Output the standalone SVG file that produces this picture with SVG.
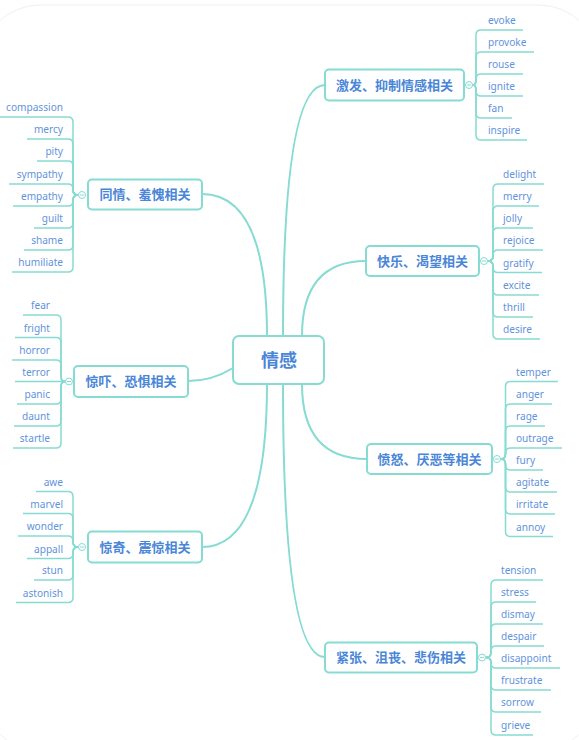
<svg xmlns="http://www.w3.org/2000/svg" width="579" height="740" viewBox="0 0 579 740">
<style>
.bg{fill:#ffffff}
.frame{fill:none;stroke:#f0f0f0;stroke-width:1}
.box{fill:#ffffff;stroke:#86dbd2;stroke-width:2}
.main{fill:none;stroke:#86dbd2;stroke-width:2}
.leafline{fill:none;stroke:#86dbd2;stroke-width:1.5}
.dot{fill:#ffffff;stroke:#86dbd2;stroke-width:1}
.minus{stroke:#86dbd2;stroke-width:1}
.center{font-family:"Noto Sans CJK SC","Noto Sans",sans-serif;font-size:18px;font-weight:bold;fill:#4a86d8;text-anchor:middle}
.topic{font-family:"Noto Sans CJK SC","Noto Sans",sans-serif;font-size:13px;font-weight:bold;fill:#4a86d8;text-anchor:middle}
.leaf{font-family:"Noto Sans","Open Sans",sans-serif;font-size:10.1px;fill:#5f93dc}
.r{text-anchor:end}
</style>
<rect class="bg" x="0" y="0" width="579" height="740"/>
<rect class="frame" x="-20" y="5" width="619" height="745" rx="60"/>

<g id="connectors">
<path class="main" d="M283,336 Q283,85 325,85"/>
<path class="main" d="M302,336 Q302,261 366,261"/>
<path class="main" d="M267,336 Q267,194 202,194"/>
<path class="main" d="M233,368 Q212,381 188,381"/>
<path class="main" d="M267,384 Q267,547 202,547"/>
<path class="main" d="M283,384 Q283,657 325,657"/>
<path class="main" d="M302,384 Q302,459 367,459"/>

<path class="leafline" d="M472.5,85 Q476,85 476,80 L476,35 Q476,30 481,30 L523,30"/>
<path class="leafline" d="M472.5,85 Q476,85 476,80 L476,57 Q476,52 481,52 L534,52"/>
<path class="leafline" d="M472.5,85 Q476,85 476,80 L476,79 Q476,74 481,74 L523,74"/>
<path class="leafline" d="M472.5,85 Q476,85 476,90 L476,91 Q476,96 481,96 L523,96"/>
<path class="leafline" d="M472.5,85 Q476,85 476,90 L476,113 Q476,118 481,118 L512,118"/>
<path class="leafline" d="M472.5,85 Q476,85 476,90 L476,135 Q476,140 481,140 L527,140"/>

<path class="leafline" d="M78.5,195 Q73,195 73,190 L73,122 Q73,117 68,117 L0,117"/>
<path class="leafline" d="M78.5,195 Q73,195 73,190 L73,144 Q73,139 68,139 L27,139"/>
<path class="leafline" d="M78.5,195 Q73,195 73,190 L73,166 Q73,161 68,161 L37,161"/>
<path class="leafline" d="M78.5,195 Q73,195 73,190 L73,189 Q73,184 68,184 L9,184"/>
<path class="leafline" d="M78.5,195 Q73,195 73,200 L73,201 Q73,206 68,206 L13,206"/>
<path class="leafline" d="M78.5,195 Q73,195 73,200 L73,223 Q73,228 68,228 L34,228"/>
<path class="leafline" d="M78.5,195 Q73,195 73,200 L73,245 Q73,250 68,250 L24,250"/>
<path class="leafline" d="M78.5,195 Q73,195 73,200 L73,267 Q73,272 68,272 L12,272"/>

<path class="leafline" d="M487.5,261 Q493,261 493,256 L493,189 Q493,184 498,184 L544,184"/>
<path class="leafline" d="M487.5,261 Q493,261 493,256 L493,211 Q493,206 498,206 L539,206"/>
<path class="leafline" d="M487.5,261 Q493,261 493,256 L493,233 Q493,228 498,228 L533,228"/>
<path class="leafline" d="M487.5,261 Q493,261 493,256 L493,255 Q493,250 498,250 L543,250"/>
<path class="leafline" d="M487.5,261 Q493,261 493,266 L493,267.5 Q493,272.5 498,272.5 L542,272.5"/>
<path class="leafline" d="M487.5,261 Q493,261 493,266 L493,290 Q493,295 498,295 L539,295"/>
<path class="leafline" d="M487.5,261 Q493,261 493,266 L493,312 Q493,317 498,317 L533,317"/>
<path class="leafline" d="M487.5,261 Q493,261 493,266 L493,334 Q493,339 498,339 L540,339"/>

<path class="leafline" d="M65.5,381.5 Q61,381.5 61,376.5 L61,320 Q61,315 56,315 L23,315"/>
<path class="leafline" d="M65.5,381.5 Q61,381.5 61,376.5 L61,342.5 Q61,337.5 56,337.5 L15,337.5"/>
<path class="leafline" d="M65.5,381.5 Q61,381.5 61,376.5 L61,365 Q61,360 56,360 L12,360"/>
<path class="leafline" d="M65.5,381.5 L15,381.5"/>
<path class="leafline" d="M65.5,381.5 Q61,381.5 61,386.5 L61,399 Q61,404 56,404 L17,404"/>
<path class="leafline" d="M65.5,381.5 Q61,381.5 61,386.5 L61,421 Q61,426 56,426 L14,426"/>
<path class="leafline" d="M65.5,381.5 Q61,381.5 61,386.5 L61,443 Q61,448 56,448 L13,448"/>

<path class="leafline" d="M78.5,547 Q73,547 73,542 L73,496.5 Q73,491.5 68,491.5 L36,491.5"/>
<path class="leafline" d="M78.5,547 Q73,547 73,542 L73,518.5 Q73,513.5 68,513.5 L23,513.5"/>
<path class="leafline" d="M78.5,547 Q73,547 73,542 L73,541 Q73,536 68,536 L18,536"/>
<path class="leafline" d="M78.5,547 Q73,547 73,552 L73,553.5 Q73,558.5 68,558.5 L27,558.5"/>
<path class="leafline" d="M78.5,547 Q73,547 73,552 L73,575 Q73,580 68,580 L34,580"/>
<path class="leafline" d="M78.5,547 Q73,547 73,552 L73,597.5 Q73,602.5 68,602.5 L16,602.5"/>

<path class="leafline" d="M500.5,459 Q505.5,459 505.5,454 L505.5,386.5 Q505.5,381.5 510.5,381.5 L558,381.5"/>
<path class="leafline" d="M500.5,459 Q505.5,459 505.5,454 L505.5,409 Q505.5,404 510.5,404 L552,404"/>
<path class="leafline" d="M500.5,459 Q505.5,459 505.5,454 L505.5,431 Q505.5,426 510.5,426 L545,426"/>
<path class="leafline" d="M500.5,459 Q505.5,459 505.5,454 L505.5,453 Q505.5,448 510.5,448 L562,448"/>
<path class="leafline" d="M500.5,459 Q505.5,459 505.5,464 L505.5,465 Q505.5,470 510.5,470 L543,470"/>
<path class="leafline" d="M500.5,459 Q505.5,459 505.5,464 L505.5,487 Q505.5,492 510.5,492 L557,492"/>
<path class="leafline" d="M500.5,459 Q505.5,459 505.5,464 L505.5,509 Q505.5,514 510.5,514 L555,514"/>
<path class="leafline" d="M500.5,459 Q505.5,459 505.5,464 L505.5,531.5 Q505.5,536.5 510.5,536.5 L553,536.5"/>

<path class="leafline" d="M485.5,657.5 Q491,657.5 491,652.5 L491,585 Q491,580 496,580 L543,580"/>
<path class="leafline" d="M485.5,657.5 Q491,657.5 491,652.5 L491,607 Q491,602 496,602 L536,602"/>
<path class="leafline" d="M485.5,657.5 Q491,657.5 491,652.5 L491,629 Q491,624 496,624 L543,624"/>
<path class="leafline" d="M485.5,657.5 Q491,657.5 491,652.5 L491,651 Q491,646 496,646 L544,646"/>
<path class="leafline" d="M485.5,657.5 Q491,657.5 491,662.5 L491,663 Q491,668 496,668 L560,668"/>
<path class="leafline" d="M485.5,657.5 Q491,657.5 491,662.5 L491,685 Q491,690 496,690 L551,690"/>
<path class="leafline" d="M485.5,657.5 Q491,657.5 491,662.5 L491,707 Q491,712 496,712 L541,712"/>
<path class="leafline" d="M485.5,657.5 Q491,657.5 491,662.5 L491,730 Q491,735 496,735 L533,735"/>
</g>

<g id="node-center">
<rect class="box" x="233" y="336" width="91" height="48" rx="6"/>
<text class="center" x="279" y="367">情感</text>
</g>

<g id="node-jifa">
<rect class="box" x="325" y="69.5" width="139" height="31" rx="4"/>
<text class="topic" x="394.5" y="89.5">激发、抑制情感相关</text>
<circle class="dot" cx="469" cy="85" r="3.5"/><line class="minus" x1="467" y1="85" x2="471" y2="85"/>
<text class="leaf" x="488" y="24">evoke</text>
<text class="leaf" x="488" y="46">provoke</text>
<text class="leaf" x="488" y="68">rouse</text>
<text class="leaf" x="488" y="90">ignite</text>
<text class="leaf" x="488" y="112">fan</text>
<text class="leaf" x="488" y="134">inspire</text>
</g>

<g id="node-tongqing">
<rect class="box" x="88" y="179.5" width="114" height="30" rx="4"/>
<text class="topic" x="145" y="199">同情、羞愧相关</text>
<circle class="dot" cx="82" cy="195" r="3.5"/><line class="minus" x1="80" y1="195" x2="84" y2="195"/>
<text class="leaf r" x="63" y="111">compassion</text>
<text class="leaf r" x="63" y="133">mercy</text>
<text class="leaf r" x="63" y="155">pity</text>
<text class="leaf r" x="63" y="178">sympathy</text>
<text class="leaf r" x="63" y="200">empathy</text>
<text class="leaf r" x="63" y="222">guilt</text>
<text class="leaf r" x="63" y="244">shame</text>
<text class="leaf r" x="63" y="266">humiliate</text>
</g>

<g id="node-kuaile">
<rect class="box" x="366" y="246" width="113" height="30" rx="4"/>
<text class="topic" x="422.5" y="265.5">快乐、渴望相关</text>
<circle class="dot" cx="484" cy="261" r="3.5"/><line class="minus" x1="482" y1="261" x2="486" y2="261"/>
<text class="leaf" x="503" y="178">delight</text>
<text class="leaf" x="503" y="200">merry</text>
<text class="leaf" x="503" y="222">jolly</text>
<text class="leaf" x="503" y="244">rejoice</text>
<text class="leaf" x="503" y="266.5">gratify</text>
<text class="leaf" x="503" y="289">excite</text>
<text class="leaf" x="503" y="311">thrill</text>
<text class="leaf" x="503" y="333">desire</text>
</g>

<g id="node-jingxia">
<rect class="box" x="74" y="366" width="114" height="31" rx="4"/>
<text class="topic" x="131" y="386">惊吓、恐惧相关</text>
<circle class="dot" cx="69" cy="381.5" r="3.5"/><line class="minus" x1="67" y1="381.5" x2="71" y2="381.5"/>
<text class="leaf r" x="50" y="309">fear</text>
<text class="leaf r" x="50" y="331.5">fright</text>
<text class="leaf r" x="50" y="354">horror</text>
<text class="leaf r" x="50" y="375.5">terror</text>
<text class="leaf r" x="50" y="398">panic</text>
<text class="leaf r" x="50" y="420">daunt</text>
<text class="leaf r" x="50" y="442">startle</text>
</g>

<g id="node-jingqi">
<rect class="box" x="88" y="531.5" width="114" height="31" rx="4"/>
<text class="topic" x="145" y="551.5">惊奇、震惊相关</text>
<circle class="dot" cx="82" cy="547" r="3.5"/><line class="minus" x1="80" y1="547" x2="84" y2="547"/>
<text class="leaf r" x="63" y="485.5">awe</text>
<text class="leaf r" x="63" y="507.5">marvel</text>
<text class="leaf r" x="63" y="530">wonder</text>
<text class="leaf r" x="63" y="552.5">appall</text>
<text class="leaf r" x="63" y="574">stun</text>
<text class="leaf r" x="63" y="596.5">astonish</text>
</g>

<g id="node-fennu">
<rect class="box" x="367" y="444" width="125" height="30" rx="4"/>
<text class="topic" x="429.5" y="463.5">愤怒、厌恶等相关</text>
<circle class="dot" cx="497" cy="459" r="3.5"/><line class="minus" x1="495" y1="459" x2="499" y2="459"/>
<text class="leaf" x="516" y="375.5">temper</text>
<text class="leaf" x="516" y="398">anger</text>
<text class="leaf" x="516" y="420">rage</text>
<text class="leaf" x="516" y="442">outrage</text>
<text class="leaf" x="516" y="464">fury</text>
<text class="leaf" x="516" y="486">agitate</text>
<text class="leaf" x="516" y="508">irritate</text>
<text class="leaf" x="516" y="530.5">annoy</text>
</g>

<g id="node-jinzhang">
<rect class="box" x="325" y="642.5" width="152" height="30" rx="4"/>
<text class="topic" x="401" y="662">紧张、沮丧、悲伤相关</text>
<circle class="dot" cx="482" cy="657.5" r="3.5"/><line class="minus" x1="480" y1="657.5" x2="484" y2="657.5"/>
<text class="leaf" x="501" y="574">tension</text>
<text class="leaf" x="501" y="596">stress</text>
<text class="leaf" x="501" y="618">dismay</text>
<text class="leaf" x="501" y="640">despair</text>
<text class="leaf" x="501" y="662">disappoint</text>
<text class="leaf" x="501" y="684">frustrate</text>
<text class="leaf" x="501" y="706">sorrow</text>
<text class="leaf" x="501" y="729">grieve</text>
</g>
</svg>
